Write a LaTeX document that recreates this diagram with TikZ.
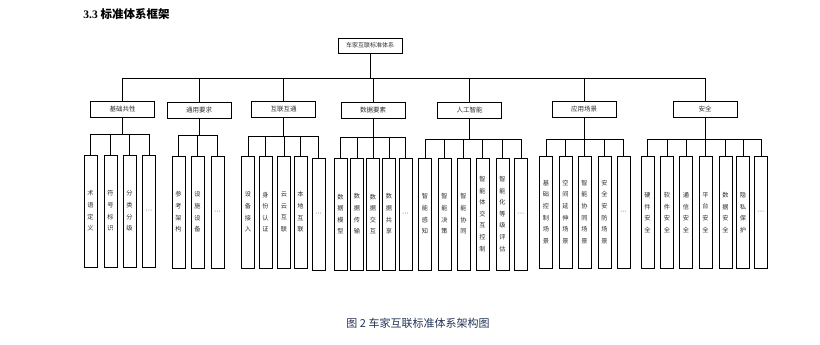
\documentclass[tikz,border=0pt]{standalone}
\usepackage{fontspec}
\setmainfont{Liberation Serif}
\newfontfamily\cjk{Noto Sans CJK SC}
\newfontfamily\dotfont{Liberation Sans}
\definecolor{capcol}{RGB}{35,50,85}
\definecolor{txtcol}{RGB}{45,45,45}
\newcommand\busgroup[5]{%
  \draw (#1.south) -- (#1.south |- 0,#2);
  \draw (#3.north |- 0,#2) -- (#4.north |- 0,#2);
  \foreach \c in {#5} {\draw (\c.north) -- (\c.north |- 0,#2);}
}
\begin{document}
\begin{tikzpicture}[x=1pt,y=-1pt,line width=0.9pt,
  rootbox/.style={draw, minimum width=64, minimum height=15, inner sep=0,
    font=\cjk\fontsize{6}{7}\selectfont, text=txtcol},
  catbox/.style={draw, minimum width=64, minimum height=16, inner sep=0,
    font=\cjk\fontsize{6.5}{7}\selectfont, text=txtcol},
  leaf/.style={draw, minimum width=13, minimum height=112, inner sep=0, align=center,
    font=\cjk\fontsize{6.2}{11.6}\selectfont, text=txtcol},
  dotsleaf/.style={leaf, font=\dotfont\fontsize{7}{8}\selectfont, text=black!65}]
\useasboundingbox (0,0) rectangle (820,345);

% title
\node[anchor=west, inner sep=0] (title) at (83,14)
  {\fontsize{11.5}{13}\selectfont\bfseries 3.3 {\cjk\bfseries 标准体系框架}};

% root
\node[rootbox] (root) at (370,45.5) {车家互联标准体系};

% level 2
\node[catbox] (A) at (122.5,109) {基础共性};
\node[catbox] (B) at (199,110) {通用要求};
\node[catbox] (C) at (283.5,109) {互联互通};
\node[catbox] (D) at (373,110) {数据要素};
\node[catbox] (E) at (469.5,110) {人工智能};
\node[catbox] (F) at (584,109) {应用场景};
\node[catbox] (G) at (705,109) {安全};

\draw (root.south) -- (root.south |- 0,78);
\draw (A.north |- 0,78) -- (G.north |- 0,78);
\foreach \n in {A,B,C,D,E,F,G} {\draw (\n.north) -- (\n.north |- 0,78);}

% group A
\node[leaf] (a1) at (90.5,211) {术\\语\\定\\义};
\node[leaf] (a2) at (110.5,211) {符\\号\\标\\识};
\node[leaf] (a3) at (129.5,211) {分\\类\\分\\级};
\node[dotsleaf] (a4) at (149,211) {···};
\busgroup{A}{134}{a1}{a4}{a1,a2,a3,a4}

% group B
\node[leaf] (b1) at (178.5,212) {参\\考\\架\\构};
\node[leaf] (b2) at (197.5,212) {设\\施\\设\\备};
\node[dotsleaf] (b3) at (217.5,212) {···};
\busgroup{B}{135}{b1}{b3}{b1,b2,b3}

% group C
\node[leaf] (c1) at (248,212) {设\\备\\接\\入};
\node[leaf] (c2) at (265.5,212) {身\\份\\认\\证};
\node[leaf] (c3) at (284,212) {云\\云\\互\\联};
\node[leaf] (c4) at (300.5,212) {本\\地\\互\\联};
\node[dotsleaf] (c5) at (318.5,214) {···};
\busgroup{C}{136}{c1}{c5}{c1,c2,c3,c4,c5}

% group D
\node[leaf] (d1) at (340.5,214) {数\\据\\模\\型};
\node[leaf] (d2) at (357,214) {数\\据\\传\\输};
\node[leaf] (d3) at (373,214) {数\\据\\交\\互};
\node[leaf] (d4) at (389,214) {数\\据\\共\\享};
\node[dotsleaf] (d5) at (405.5,214) {···};
\busgroup{D}{137}{d1}{d5}{d1,d2,d3,d4,d5}

% group E
\node[leaf] (e1) at (425,214) {智\\能\\感\\知};
\node[leaf] (e2) at (444.5,214) {智\\能\\决\\策};
\node[leaf] (e3) at (463.5,214) {智\\能\\协\\同};
\node[leaf] (e4) at (482.5,214) {智\\能\\体\\交\\互\\控\\制};
\node[leaf] (e5) at (502.5,214) {智\\能\\化\\等\\级\\评\\估};
\node[dotsleaf] (e6) at (521,214) {···};
\busgroup{E}{139}{e1}{e6}{e1,e2,e3,e4,e5,e6}

% group F
\node[leaf] (f1) at (546,212) {基\\础\\控\\制\\场\\景};
\node[leaf] (f2) at (565.5,212) {空\\间\\延\\伸\\场\\景};
\node[leaf] (f3) at (584.5,212) {智\\能\\协\\同\\场\\景};
\node[leaf] (f4) at (604.5,212) {安\\全\\安\\防\\场\\景};
\node[dotsleaf] (f5) at (623.5,212) {···};
\busgroup{F}{139}{f1}{f5}{f1,f2,f3,f4,f5}

% group G
\node[leaf] (g1) at (647.5,212.5) {硬\\件\\安\\全};
\node[leaf] (g2) at (667,212.5) {软\\件\\安\\全};
\node[leaf] (g3) at (686,212.5) {通\\信\\安\\全};
\node[leaf] (g4) at (705.5,212.5) {平\\台\\安\\全};
\node[leaf] (g5) at (725.5,212.5) {数\\据\\安\\全};
\node[leaf] (g6) at (743,212.5) {隐\\私\\保\\护};
\node[dotsleaf] (g7) at (761,212.5) {···};
\busgroup{G}{139}{g1}{g7}{g1,g2,g3,g4,g5,g6,g7}

% caption
\node[inner sep=0, text=capcol, font=\cjk\fontsize{11}{13}\selectfont] (cap) at (418,323)
  {图 2 车家互联标准体系架构图};
\end{tikzpicture}
\end{document}
